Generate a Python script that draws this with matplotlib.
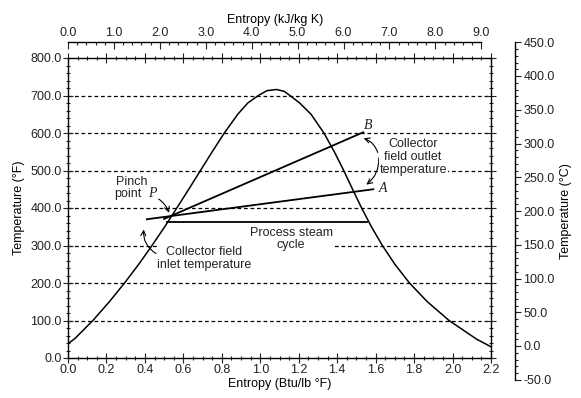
import matplotlib.pyplot as plt
from matplotlib.ticker import MultipleLocator, FormatStrFormatter

plt.rcParams['font.family'] = ['Liberation Sans', 'DejaVu Sans']
plt.rcParams['font.size'] = 9
plt.rcParams['text.color'] = '#222222'
plt.rcParams['xtick.color'] = '#222222'
plt.rcParams['ytick.color'] = '#222222'

# saturation dome (entropy Btu/lb F, temperature F), left base -> top -> right base
dome_s = [0.0, 0.036, 0.1295, 0.215, 0.294, 0.368, 0.437, 0.503, 0.566, 0.628,
          0.689, 0.750, 0.813, 0.883, 0.935, 0.990, 1.035, 1.085, 1.125, 1.154,
          1.205, 1.264, 1.331, 1.385, 1.434, 1.480, 1.527, 1.578, 1.635, 1.700,
          1.776, 1.869, 1.982, 2.126, 2.200]
dome_T = [38, 52, 100, 150, 200, 250, 300, 350, 400, 450,
          500, 550, 600, 650, 680, 700, 713, 716, 711, 700,
          680, 650, 600, 550, 500, 450, 400, 350, 300, 250,
          200, 150, 100, 50, 30]

# collector / process lines
line_A_s = [0.41, 1.588]
line_A_T = [370, 450]
line_B_s = [0.50, 1.536]
line_B_T = [371, 602]
process_s = [0.515, 1.553]
process_T = [364, 364]

grid_T = [100, 200, 300, 400, 500, 600, 700]
kj_ticks = [0.0, 1.0, 2.0, 3.0, 4.0, 5.0, 6.0, 7.0, 8.0, 9.0]
btu_per_kj = 0.23885

fig = plt.figure(figsize=(5.81, 3.98), dpi=100)
L, B, W, H = 68/581, 1-358/398, (491-68)/581, (358-58)/398
ax = fig.add_axes([L, B, W, H])
ax.set_xlim(0, 2.2)
ax.set_ylim(0, 800)

for t in grid_T:
    ax.axhline(t, color='black', lw=0.9, ls=(0, (3, 2.2)), zorder=1)

ax.plot(dome_s, dome_T, color='black', lw=1.1, zorder=3)
ax.plot(line_A_s, line_A_T, color='black', lw=1.3, zorder=3)
ax.plot(line_B_s, line_B_T, color='black', lw=1.3, zorder=3)
ax.plot(process_s, process_T, color='black', lw=1.3, zorder=3)

ax.xaxis.set_major_locator(MultipleLocator(0.2))
ax.xaxis.set_minor_locator(MultipleLocator(0.05))
ax.yaxis.set_major_locator(MultipleLocator(100))
ax.yaxis.set_minor_locator(MultipleLocator(20))
ax.xaxis.set_major_formatter(FormatStrFormatter('%.1f'))
ax.yaxis.set_major_formatter(FormatStrFormatter('%.1f'))
ax.tick_params(which='both', direction='inout', top=True, right=True, width=0.8)
ax.tick_params(which='major', length=7, labelsize=9, pad=1)
ax.tick_params(which='minor', length=3.5)
for sp in ax.spines.values():
    sp.set_linewidth(1.0)
ax.set_xlabel('Entropy (Btu/lb °F)', fontsize=9, labelpad=1)
ax.set_ylabel('Temperature (°F)', fontsize=9, labelpad=4)

# annotations
box = dict(facecolor='white', edgecolor='none', pad=0.5)
ax.text(0.333, 470, 'Pinch', ha='center', va='center', fontsize=9)
ax.text(0.312, 437, 'point', ha='center', va='center', fontsize=9)
ax.text(0.438, 439, 'P', ha='center', va='center', fontsize=10,
        family='Liberation Serif', style='italic')
ax.annotate('', xy=(0.53, 380), xytext=(0.46, 428),
            arrowprops=dict(arrowstyle='->', lw=0.8, color='black',
                            connectionstyle='arc3,rad=-0.2'))
ax.text(0.71, 266, 'Collector field\ninlet temperature', ha='center', va='center',
        fontsize=9, linespacing=1.1, bbox=box, zorder=4)
ax.annotate('', xy=(0.395, 350), xytext=(0.47, 275),
            arrowprops=dict(arrowstyle='->', lw=0.8, color='black',
                            connectionstyle='arc3,rad=-0.35'))
ax.text(1.795, 536, 'Collector\nfield outlet\ntemperature', ha='center', va='center',
        fontsize=9, linespacing=1.1, bbox=box, zorder=4)
ax.annotate('', xy=(1.524, 588), xytext=(1.615, 541),
            arrowprops=dict(arrowstyle='->', lw=0.8, color='black',
                            connectionstyle='arc3,rad=0.3'))
ax.annotate('', xy=(1.54, 458), xytext=(1.615, 541),
            arrowprops=dict(arrowstyle='->', lw=0.8, color='black',
                            connectionstyle='arc3,rad=-0.3'))
ax.text(1.16, 318, 'Process steam\ncycle', ha='center', va='center',
        fontsize=9, linespacing=1.05, bbox=box, zorder=4)
ax.text(1.562, 621, 'B', ha='center', va='center', fontsize=10,
        family='Liberation Serif', style='italic')
ax.text(1.64, 452, 'A', ha='center', va='center', fontsize=10,
        family='Liberation Serif', style='italic')

# top axis in kJ/kg K
top_y = 1 - 42/398
axt = fig.add_axes([L, top_y, W * 9 * btu_per_kj / 2.2, 0.0001])
axt.set_xlim(0, 9)
axt.set_ylim(0, 1)
axt.patch.set_visible(False)
for k in ['left', 'right', 'bottom']:
    axt.spines[k].set_visible(False)
axt.spines['top'].set_linewidth(1.0)
axt.set_yticks([])
axt.xaxis.set_ticks_position('top')
axt.xaxis.set_label_position('top')
axt.set_xticks(kj_ticks)
axt.xaxis.set_minor_locator(MultipleLocator(0.2))
axt.xaxis.set_major_formatter(FormatStrFormatter('%.1f'))
axt.tick_params(which='both', direction='in', width=0.8, labelsize=9, pad=2)
axt.tick_params(which='major', length=5)
axt.tick_params(which='minor', length=2.5)
axt.set_xlabel('Entropy (kJ/kg K)', fontsize=9, labelpad=3)

# right axis in Celsius, spans -50..450 C
c_bot = B + (-58 / 800) * H
c_top = B + (842 / 800) * H
axc = fig.add_axes([515/581, c_bot, 0.0001, c_top - c_bot])
axc.set_ylim(-50, 450)
axc.set_xlim(0, 1)
axc.patch.set_visible(False)
for k in ['left', 'top', 'bottom']:
    axc.spines[k].set_visible(False)
axc.spines['right'].set_linewidth(1.0)
axc.set_xticks([])
axc.yaxis.set_ticks_position('right')
axc.yaxis.set_label_position('right')
axc.yaxis.set_major_locator(MultipleLocator(50))
axc.yaxis.set_minor_locator(MultipleLocator(10))
axc.yaxis.set_major_formatter(FormatStrFormatter('%.1f'))
axc.tick_params(which='both', direction='out', width=0.8, labelsize=9, pad=2)
axc.tick_params(which='major', length=4)
axc.tick_params(which='minor', length=2)
axc.set_ylabel('Temperature (°C)', fontsize=9, labelpad=4)

fig.savefig('out.png', dpi=100)
